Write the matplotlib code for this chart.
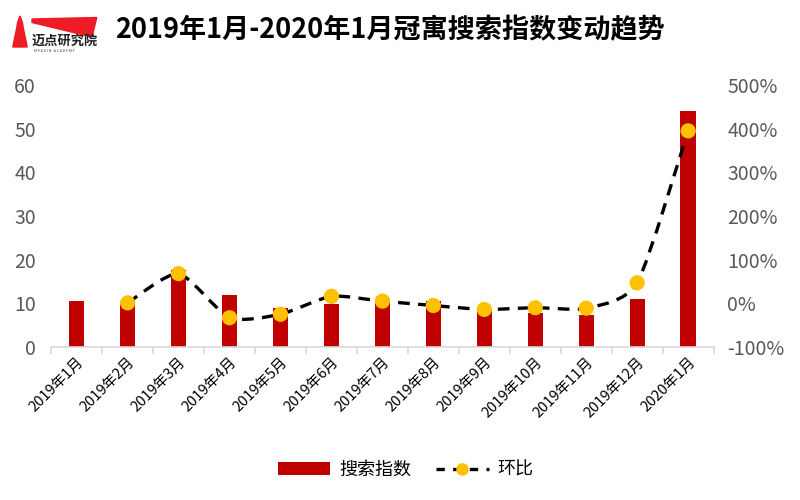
import numpy as np
import matplotlib
matplotlib.use('Agg')
import matplotlib.pyplot as plt
from matplotlib.path import Path
from matplotlib.patches import PathPatch, Patch, Polygon
from matplotlib.lines import Line2D

plt.rcParams['font.family'] = ['Noto Sans CJK SC', 'DejaVu Sans']

# --- data ---
months = ['2019年1月', '2019年2月', '2019年3月', '2019年4月', '2019年5月', '2019年6月',
          '2019年7月', '2019年8月', '2019年9月', '2019年10月', '2019年11月', '2019年12月',
          '2020年1月']
search_index = [10.5, 10.4, 17.6, 12.0, 8.9, 9.9, 11.0, 10.5, 8.5, 7.9, 7.3, 11.0, 54.0]
mom_pct = [None, 1, 68, -33, -25, 16, 5, -5, -14, -10, -11, 47, 395]

bar_color = '#c00000'
dot_color = '#ffc000'
grey = '#595959'

fig = plt.figure(figsize=(8, 5), dpi=100)
ax = fig.add_axes([0.064, 0.306, 0.828, 0.524])
x = np.arange(len(months))

ax.bar(x, search_index, width=0.3, color=bar_color, zorder=2)
ax.set_xlim(-0.5, len(months) - 0.5)
ax.set_ylim(0, 60)
ax.set_yticks(range(0, 61, 10))
ax.tick_params(axis='y', length=0, labelsize=14, labelcolor=grey, pad=11)
for s in ['top', 'right', 'left']:
    ax.spines[s].set_visible(False)
ax.spines['bottom'].set_color('#d9d9d9')
ax.spines['bottom'].set_linewidth(1.2)
ax.set_xticks(x)
ax.set_xticklabels(months, rotation=45, ha='right', rotation_mode='anchor', fontsize=10.5)
ax.tick_params(axis='x', which='major', length=0, pad=6)
ax.set_xticks(np.arange(-0.5, len(months), 1), minor=True)
ax.tick_params(axis='x', which='minor', length=5, color='#d9d9d9', width=1.2)

# --- secondary axis: month-on-month change ---
ax2 = ax.twinx()
ax2.set_ylim(-100, 500)
ax2.set_yticks(range(-100, 501, 100))
ax2.set_yticklabels([f'{v}%' for v in range(-100, 501, 100)])
ax2.tick_params(axis='y', length=0, labelsize=14, labelcolor=grey, pad=10)
for s in ['top', 'right', 'left', 'bottom']:
    ax2.spines[s].set_visible(False)

px = [i for i, v in enumerate(mom_pct) if v is not None]
py = [v for v in mom_pct if v is not None]

# smoothed dashed curve through the points (bezier segments, like excel's smooth line)
verts = [(px[0], py[0])]
codes = [Path.MOVETO]
k = 0.11
for i in range(len(px) - 1):
    p0 = (px[max(i - 1, 0)], py[max(i - 1, 0)])
    p1 = (px[i], py[i])
    p2 = (px[i + 1], py[i + 1])
    p3 = (px[min(i + 2, len(px) - 1)], py[min(i + 2, len(px) - 1)])
    c1 = (p1[0] + (p2[0] - p0[0]) * k, p1[1] + (p2[1] - p0[1]) * k)
    c2 = (p2[0] - (p3[0] - p1[0]) * k, p2[1] - (p3[1] - p1[1]) * k)
    verts += [c1, c2, p2]
    codes += [Path.CURVE4] * 3
curve = PathPatch(Path(verts, codes), fill=False, edgecolor='black', lw=2.4,
                  linestyle=(0, (3.5, 2.5)), zorder=3)
ax2.add_patch(curve)
ax2.scatter(px, py, s=120, color=dot_color, zorder=4, edgecolors='none')

# --- title and logo ---
fig.text(0.488, 0.94, '2019年1月-2020年1月冠寓搜索指数变动趋势', ha='center', va='center',
         fontsize=19.5, fontweight='bold', color='black')
fig.patches.append(Polygon([[0.04, 0.962], [0.121, 0.965], [0.115, 0.926], [0.04, 0.955]],
                           closed=True, transform=fig.transFigure, color='#ee1c25'))
fig.patches.append(Polygon([[0.016, 0.906], [0.021, 0.945], [0.022, 0.955], [0.025, 0.968],
                            [0.028, 0.955], [0.029, 0.945], [0.034, 0.906]],
                           closed=True, transform=fig.transFigure, color='#ee1c25'))
fig.text(0.04, 0.918, '迈点研究院', fontsize=9.5, fontweight='bold', color='#222222',
         va='center')
fig.text(0.042, 0.897, 'M E A D I N   A C A D E M Y', fontsize=2.6, color='#444444',
         va='center')

# --- legend ---
handles = [Patch(facecolor=bar_color, label='搜索指数'),
           Line2D([0], [0], color='black', lw=2.4, linestyle=(0, (2.5, 2.5)), marker='o',
                  markersize=8, markerfacecolor=dot_color, markeredgecolor=dot_color,
                  label='环比')]
fig.legend(handles=handles, loc='center', bbox_to_anchor=(0.507, 0.06), ncol=2,
           frameon=False, fontsize=13, handlelength=2.9, columnspacing=1.4,
           handletextpad=0.5)

fig.savefig('out.png', dpi=100)
